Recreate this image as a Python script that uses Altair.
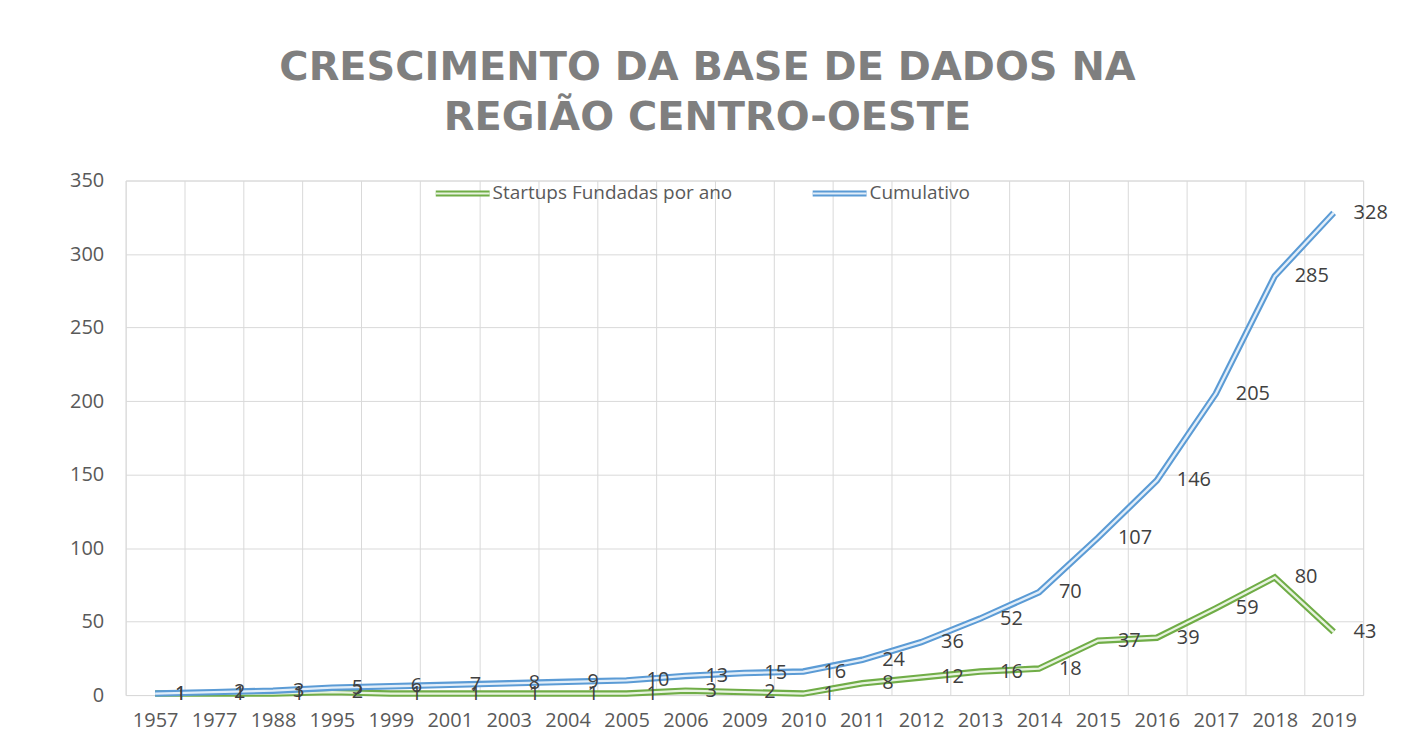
import altair as alt
import pandas as pd

# ---------------- data ----------------
years = ["1957", "1977", "1988", "1995", "1999", "2001", "2003", "2004", "2005", "2006",
         "2009", "2010", "2011", "2012", "2013", "2014", "2015", "2016", "2017", "2018", "2019"]
founded = [1, 1, 1, 2, 1, 1, 1, 1, 1, 3, 2, 1, 8, 12, 16, 18, 37, 39, 59, 80, 43]
cumulative = [1, 2, 3, 5, 6, 7, 8, 9, 10, 13, 15, 16, 24, 36, 52, 70, 107, 146, 205, 285, 328]
series_names = ["Startups Fundadas por ano", "Cumulativo"]
series_colors = ["#70AD47", "#5B9BD5"]
series_inner = ["#E8F3E0", "#E2EEF9"]
y_ticks = [0, 50, 100, 150, 200, 250, 300, 350]
title_lines = ["CRESCIMENTO DA BASE DE DADOS NA", "REGIÃO CENTRO-OESTE"]

rows = []
for i, yr in enumerate(years):
    rows.append({"ano": yr, "serie": series_names[0], "valor": founded[i]})
    rows.append({"ano": yr, "serie": series_names[1], "valor": cumulative[i]})
df = pd.DataFrame(rows)

LABEL_FONT = "Open Sans"
GRID = "#D9D9D9"

x_enc = alt.X(
    "ano:N", sort=years,
    scale=alt.Scale(type="band", paddingInner=0, paddingOuter=0),
    bandPosition=0.5,
    axis=alt.Axis(title=None, labelAngle=0, tickBand="extent", grid=True, gridColor=GRID,
                  ticks=False, domain=False, labelFont=LABEL_FONT, labelFontSize=20,
                  labelColor="#595959", labelPadding=16),
)
y_enc = alt.Y(
    "valor:Q",
    scale=alt.Scale(domain=[0, 350], nice=False),
    axis=alt.Axis(title=None, values=y_ticks, grid=True, gridColor=GRID, ticks=False,
                  domain=False, labelFont=LABEL_FONT, labelFontSize=20,
                  labelColor="#595959", labelPadding=22),
)
color_enc = alt.Color("serie:N", scale=alt.Scale(domain=series_names, range=series_colors),
                      legend=None)

base = alt.Chart(df)

line_layers = []
for name, inner_col in zip(series_names, series_inner):
    sub = base.transform_filter(alt.datum.serie == name)
    line_layers.append(sub.mark_line(strokeWidth=6.5).encode(x=x_enc, y=y_enc, color=color_enc))
    line_layers.append(sub.mark_line(strokeWidth=2.3, color=inner_col).encode(x=x_enc, y=y_enc))

labels = base.mark_text(align="left", baseline="middle", dx=20, font=LABEL_FONT,
                        fontSize=20, color="#404040").encode(
    x=x_enc, y=y_enc, text="valor:Q")

# ---------------- manual legend (double-line symbols) ----------------
legend_layers = []
legend_x = [311, 689]
for name, col, inner_col, lx in zip(series_names, series_colors, series_inner, legend_x):
    ldf = pd.DataFrame({"serie": [name]})
    legend_layers.append(
        alt.Chart(ldf).mark_rule(color=col, strokeWidth=6).encode(
            x=alt.value(lx), x2=alt.value(lx + 54), y=alt.value(13)))
    legend_layers.append(
        alt.Chart(ldf).mark_rule(color=inner_col, strokeWidth=2).encode(
            x=alt.value(lx), x2=alt.value(lx + 54), y=alt.value(13)))
    legend_layers.append(
        alt.Chart(ldf).mark_text(align="left", baseline="middle", font=LABEL_FONT,
                                 fontSize=19, color="#595959").encode(
            x=alt.value(lx + 57), y=alt.value(13), text="serie:N"))

chart = alt.layer(*line_layers, labels, *legend_layers).properties(
    width=1241,
    height=516,
    title=alt.TitleParams(
        text=title_lines, font="DejaVu Sans", fontSize=40, fontWeight="bold",
        color="#7F7F7F", lineHeight=50, anchor="middle", frame="group", dx=-37,
        offset=33),
    autosize=alt.AutoSizeParams(type="none"),
    padding={"left": 118, "top": 172, "right": 40, "bottom": 36},
).configure_view(stroke=None).configure(background="#FFFFFF")

chart.save("out.html", embed_options={"renderer": "svg", "actions": False})
